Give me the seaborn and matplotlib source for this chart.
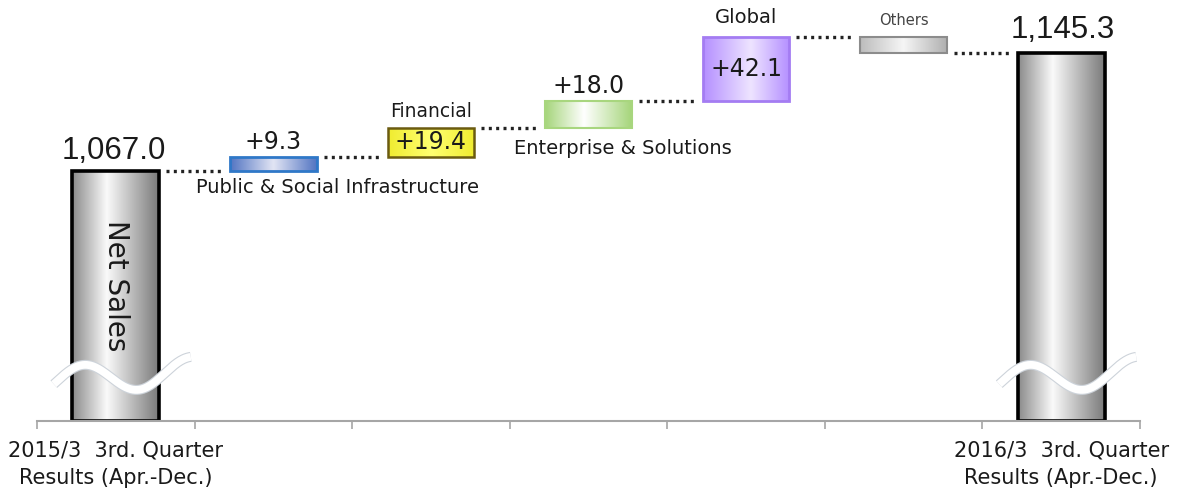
import numpy as np
import pandas as pd
import matplotlib.pyplot as plt
import seaborn as sns
from matplotlib.colors import LinearSegmentedColormap

# Waterfall data (billions of yen)
segments = ["2015/3  3rd. Quarter\nResults (Apr.-Dec.)",
            "Public & Social Infrastructure", "Financial",
            "Enterprise & Solutions", "Global", "Others",
            "2016/3  3rd. Quarter\nResults (Apr.-Dec.)"]
start_total = 1067.0
changes = [9.3, 19.4, 18.0, 42.1, -10.5]
end_total = 1145.3
change_labels = ["+9.3", "+19.4", "+18.0", "+42.1", ""]
total_labels = ["1,067.0", "1,145.3"]

# broken value axis
y_floor, y_top = 901.3, 1180.4

# running totals -> bar bottoms / heights
bottoms, heights, levels = [y_floor], [start_total - y_floor], [start_total]
run = start_total
for c in changes:
    bottoms.append(run if c > 0 else run + c)
    heights.append(abs(c))
    run += c
    levels.append(run)
bottoms.append(y_floor)
heights.append(end_total - y_floor)
levels.append(end_total)

df = pd.DataFrame({"segment": segments, "height": heights})

# gradient colours per bar: (edge, centre, edge, centre position), border, border width
styles = [
    (("#8a8a8a", "#fafafa", "#7a7a7a", 0.4), "black", 2.6),
    (("#5274c2", "#e2e5f4", "#5274c2", 0.5), "#2f78c8", 2.0),
    (("#f0ec30", "#ffff70", "#f0ec30", 0.5), "#6b5b10", 1.8),
    (("#a5d57a", "#ffffff", "#a5d57a", 0.45), "#a8d67e", 1.5),
    (("#b48fff", "#eee4ff", "#b48fff", 0.55), "#a47cf2", 2.0),
    (("#bcbcbc", "#f6f6f6", "#b0b0b0", 0.5), "#8c8c8c", 1.5),
    (("#8a8a8a", "#fafafa", "#7a7a7a", 0.4), "black", 2.6),
]

sns.set_theme(style="white")
plt.rcParams["font.family"] = ["DejaVu Sans"]

fig = plt.figure(figsize=(11.83, 4.94), dpi=100)
ax = fig.add_axes([37 / 1183, 73 / 494, 1103 / 1183, 421 / 494])

sns.barplot(data=df, x="segment", y="height", bottom=bottoms, width=0.55,
            color="white", ax=ax, zorder=3)

for patch, (grad, ec, lw) in zip(ax.patches, styles):
    left, mid, right, pos = grad
    cmap = LinearSegmentedColormap.from_list("g", [(0, left), (pos, mid), (1, right)])
    x0, y0 = patch.get_x(), patch.get_y()
    w, h = patch.get_width(), patch.get_height()
    im = ax.imshow(np.linspace(0, 1, 256)[np.newaxis, :], cmap=cmap, aspect="auto",
                   extent=[x0, x0 + w, y0, y0 + h], zorder=2, interpolation="bicubic")
    im.set_clip_path(patch)
    patch.set_facecolor("none")
    patch.set_edgecolor(ec)
    patch.set_linewidth(lw)
    patch.set_joinstyle("miter")
ax.set_xlim(-0.5, 6.5)
ax.set_ylim(y_floor, y_top)

# dotted connectors
half = 0.55 / 2
gap = 0.045
for i in range(len(segments) - 1):
    ax.plot([i + half + gap, i + 1 - half - gap], [levels[i], levels[i]],
            color="#222222", lw=2.4, linestyle=(0, (0.9, 1.3)), zorder=4,
            solid_capstyle="butt", dash_capstyle="butt")

# break marks on the total bars
px_per_unit = 421 / (y_top - y_floor)
t = np.linspace(-62, 75, 200)
wave_px = 377 - 0.075 * t - 14.5 * np.cos(2 * np.pi * (t + 32) / 108)
for i in (0, 6):
    wx = i + t / 157.6
    wy = y_floor + (421 - wave_px) / px_per_unit
    ax.plot(wx, wy, color="#cdd3da", lw=7.2, zorder=5, solid_capstyle="butt")
    ax.plot(wx, wy, color="white", lw=5.6, zorder=6, solid_capstyle="butt")

px = 1 / px_per_unit
txt = "#1a1a1a"
# totals
ax.text(-0.015, levels[0] + 12 * px, total_labels[0], ha="center", va="baseline",
        fontsize=22.5, color=txt, family=["Liberation Sans", "DejaVu Sans"])
ax.text(6.01, levels[6] + 15 * px, total_labels[1], ha="center", va="baseline",
        fontsize=22.5, color=txt, family=["Liberation Sans", "DejaVu Sans"])
ax.text(0, 991, "Net Sales", rotation=270, ha="center", va="center",
        fontsize=20, color=txt, zorder=7)

# changes
top = [b + h for b, h in zip(bottoms, heights)]
ax.text(1, top[1] + 3 * px, change_labels[0], ha="center", va="bottom", fontsize=17, color=txt)
ax.text(1.406, bottoms[1] - 7 * px, segments[1], ha="center", va="top", fontsize=14, color=txt)
ax.text(2, top[2] + 7 * px, segments[2], ha="center", va="bottom", fontsize=13.5, color=txt)
ax.text(2, (top[2] + bottoms[2]) / 2, change_labels[1], ha="center", va="center",
        fontsize=17, color=txt, zorder=7)
ax.text(3, top[3] + 3 * px, change_labels[2], ha="center", va="bottom", fontsize=17, color=txt)
ax.text(3.216, bottoms[3] - 11 * px, segments[3], ha="center", va="top", fontsize=14, color=txt)
ax.text(4, top[4] + 10 * px, segments[4], ha="center", va="bottom", fontsize=14, color=txt)
ax.text(4, (top[4] + bottoms[4]) / 2, change_labels[3], ha="center", va="center",
        fontsize=17, color=txt, zorder=7)
ax.text(5, top[5] + 9 * px, segments[5], ha="center", va="bottom", fontsize=10.5, color="#444444")

# axis: labels only under the totals, ticks between categories
ax.set_xticks(range(len(segments)))
ax.set_xticklabels([segments[0], "", "", "", "", "", segments[6]], fontsize=15,
                   color=txt, linespacing=1.45)
ax.set_xticks(np.arange(-0.5, 7, 1), minor=True)
ax.tick_params(axis="x", which="major", length=0, pad=14)
ax.tick_params(axis="x", which="minor", length=6, width=1.2, color="#a6a6a6",
               direction="out", bottom=True)
ax.set_yticks([])
ax.set_xlabel("")
ax.set_ylabel("")
for s in ("left", "right", "top"):
    ax.spines[s].set_visible(False)
ax.spines["bottom"].set_color("#a6a6a6")
ax.spines["bottom"].set_linewidth(1.5)
ax.spines["bottom"].set_zorder(8)

fig.savefig("out.png", dpi=100)
